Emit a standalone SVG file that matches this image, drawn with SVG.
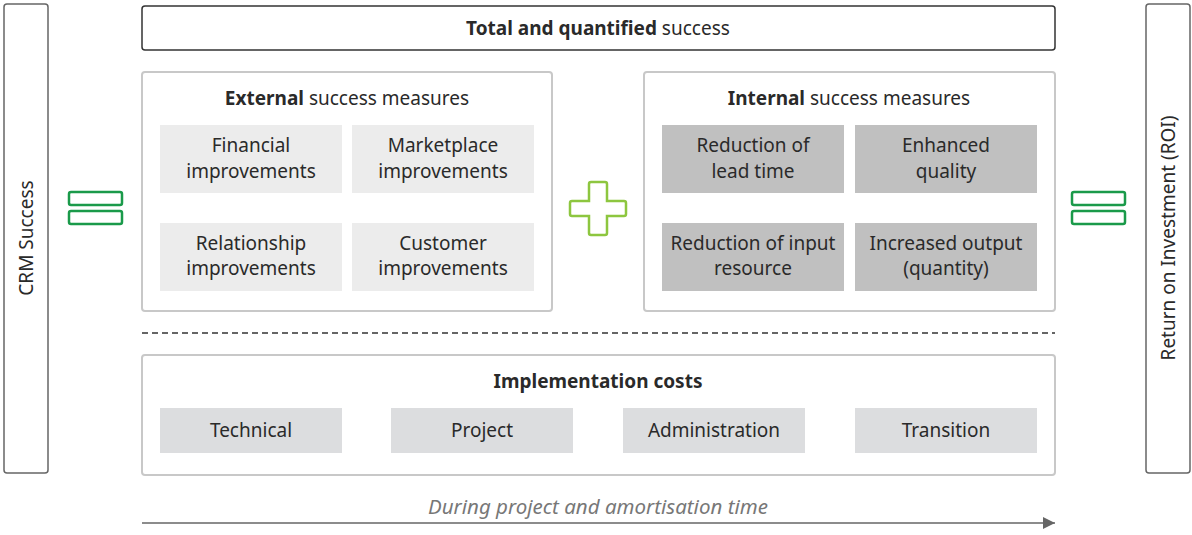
<svg xmlns="http://www.w3.org/2000/svg" width="1192" height="535" viewBox="0 0 1192 535">
<defs>
<style>
text{font-family:"Noto Sans","Open Sans","DejaVu Sans",sans-serif;font-size:19px;fill:#2a2a2a;text-anchor:middle}
.b{font-weight:bold}
.side{fill:#fff;stroke:#666;stroke-width:1.5}
.top{fill:#fff;stroke:#333;stroke-width:1.5}
.grp{fill:#fff;stroke:#c8c8c8;stroke-width:2}
.ext{fill:#ececec}
.int{fill:#c0c0c0}
.imp{fill:#dcdddf}
.eq{fill:#fff;stroke:#1a9a4a;stroke-width:2.5}
.it{font-style:italic;fill:#777;font-size:20.5px}
</style>
<marker id="ah" viewBox="0 0 10 10" refX="10" refY="5" markerWidth="18" markerHeight="12" markerUnits="userSpaceOnUse" orient="auto"><path d="M0,0L10,5L0,10z" fill="#666"/></marker>
</defs>
<g id="crm-success"><rect class="side" x="4" y="4" width="44" height="469" rx="3"/><text transform="translate(33,238) rotate(-90)">CRM Success</text></g>
<g id="roi"><rect class="side" x="1146" y="4" width="44" height="469" rx="3"/><text transform="translate(1175,238) rotate(-90)">Return on Investment (ROI)</text></g>
<g id="eq-left"><rect class="eq" x="69" y="192" width="53" height="13" rx="2"/><rect class="eq" x="69" y="211" width="53" height="13" rx="2"/></g>
<g id="eq-right"><rect class="eq" x="1072" y="192" width="53" height="13" rx="2"/><rect class="eq" x="1072" y="211" width="53" height="13" rx="2"/></g>
<g id="total"><rect class="top" x="142" y="6" width="913" height="44" rx="3"/><text x="598" y="35"><tspan class="b">Total and quantified</tspan> success</text></g>
<g id="external"><rect class="grp" x="142" y="72" width="410" height="239" rx="3"/><text x="347" y="105"><tspan class="b">External</tspan> success measures</text>
<rect class="ext" x="160" y="125" width="182" height="68"/><text x="251" y="152">Financial</text><text x="251" y="178">improvements</text>
<rect class="ext" x="352" y="125" width="182" height="68"/><text x="443" y="152">Marketplace</text><text x="443" y="178">improvements</text>
<rect class="ext" x="160" y="223" width="182" height="68"/><text x="251" y="250">Relationship</text><text x="251" y="275">improvements</text>
<rect class="ext" x="352" y="223" width="182" height="68"/><text x="443" y="250">Customer</text><text x="443" y="275">improvements</text></g>
<g id="plus"><path d="M591,182h14a2,2 0 0 1 2,2v17h17a2,2 0 0 1 2,2v11a2,2 0 0 1-2,2h-17v17a2,2 0 0 1-2,2h-14a2,2 0 0 1-2-2v-17h-17a2,2 0 0 1-2-2v-11a2,2 0 0 1 2-2h17v-17a2,2 0 0 1 2-2z" fill="#fff" stroke="#8dc63f" stroke-width="2.5"/></g>
<g id="internal"><rect class="grp" x="644" y="72" width="411" height="239" rx="3"/><text x="849" y="105"><tspan class="b">Internal</tspan> success measures</text>
<rect class="int" x="662" y="125" width="182" height="68"/><text x="753" y="152">Reduction of</text><text x="753" y="178">lead time</text>
<rect class="int" x="855" y="125" width="182" height="68"/><text x="946" y="152">Enhanced</text><text x="946" y="178">quality</text>
<rect class="int" x="662" y="223" width="182" height="68"/><text x="753" y="250">Reduction of input</text><text x="753" y="275">resource</text>
<rect class="int" x="855" y="223" width="182" height="68"/><text x="946" y="250">Increased output</text><text x="946" y="275">(quantity)</text></g>
<g id="divider"><line x1="142" y1="333" x2="1055" y2="333" stroke="#333" stroke-width="1.3" stroke-dasharray="6,4"/></g>
<g id="costs"><rect class="grp" x="142" y="355" width="913" height="120" rx="3"/><text x="598" y="388" class="b">Implementation costs</text>
<rect class="imp" x="160" y="408" width="182" height="45"/><text x="251" y="437">Technical</text>
<rect class="imp" x="391" y="408" width="182" height="45"/><text x="482" y="437">Project</text>
<rect class="imp" x="623" y="408" width="182" height="45"/><text x="714" y="437">Administration</text>
<rect class="imp" x="855" y="408" width="182" height="45"/><text x="946" y="437">Transition</text></g>
<g id="connectors"><line x1="142" y1="523" x2="1055" y2="523" stroke="#666" stroke-width="1.5" marker-end="url(#ah)"/></g>
<g id="timeline-label"><text class="it" x="598" y="514">During project and amortisation time</text></g>
</svg>
